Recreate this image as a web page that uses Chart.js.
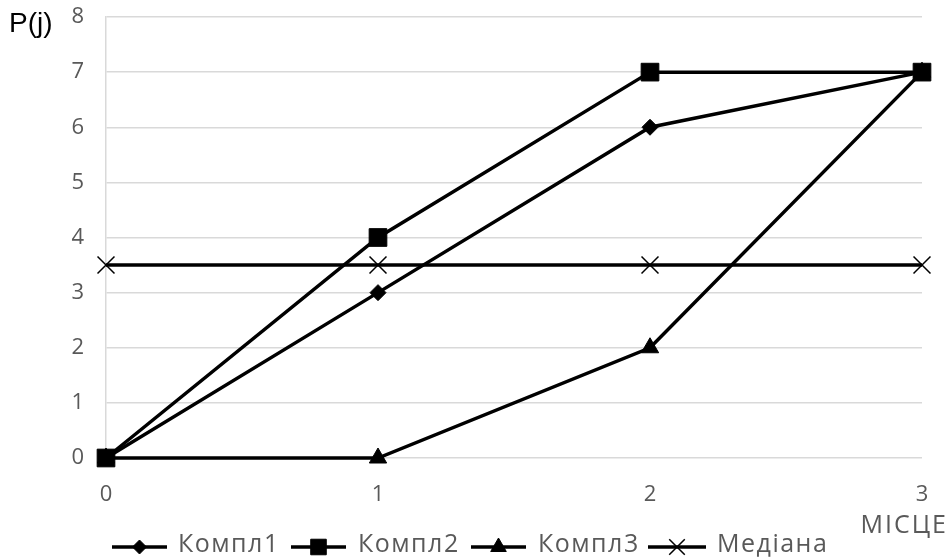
<!DOCTYPE html>
<html>
<head>
<meta charset="utf-8">
<script src="https://cdn.jsdelivr.net/npm/chart.js@4"></script>
<style>
  html, body { margin: 0; padding: 0; background: #fff; }
  #wrap { width: 949px; height: 560px; position: relative; }
</style>
</head>
<body>
<div id="wrap"><canvas id="c" width="949" height="560"></canvas></div>
<script>
// Places (x) and the P(j) values of each set
const places = [0, 1, 2, 3];
const kompl1 = [0, 3, 6, 7];
const kompl2 = [0, 4, 7, 7];
const kompl3 = [0, 0, 2, 7];
const median = [3.5, 3.5, 3.5, 3.5];
const seriesNames = ['Компл1', 'Компл2', 'Компл3', 'Медіана'];
const yTicks = [0, 1, 2, 3, 4, 5, 6, 7, 8];

const tickFont = { family: '"Open Sans", Lato, sans-serif', size: 22 };
const tickColor = '#595959';

const styles = [
  { pointStyle: 'rectRot', pointRadius: 8, legendRadius: 7 },
  { pointStyle: 'rect', pointRadius: 12.5, legendRadius: 11 },
  { pointStyle: 'triangle', pointRadius: 10, legendRadius: 9 },
  { pointStyle: 'crossRot', pointRadius: 12, legendRadius: 11, pointBorderWidth: 1.5 }
];

const seriesData = [kompl1, kompl2, kompl3, median];

const datasets = seriesData.map((vals, i) => ({
  label: seriesNames[i],
  data: places.map((p, k) => ({ x: p, y: vals[k] })),
  borderColor: '#000',
  backgroundColor: '#000',
  borderWidth: 3.5,
  pointBackgroundColor: '#000',
  pointBorderColor: '#000',
  pointBorderWidth: styles[i].pointBorderWidth || 1,
  pointStyle: styles[i].pointStyle,
  pointRadius: styles[i].pointRadius,
  pointHoverRadius: styles[i].pointRadius,
  tension: 0,
  clip: false,
  order: 4 - i
}));

// Legend with line + marker samples, and the two axis titles
const extras = {
  id: 'extras',
  afterDraw(chart) {
    const ctx = chart.ctx;
    ctx.save();
    ctx.fillStyle = '#000';
    ctx.font = '28px "Liberation Sans", Arial, sans-serif';
    ctx.textAlign = 'left';
    ctx.textBaseline = 'middle';
    ctx.fillText('P(j)', 9, 24);

    ctx.fillStyle = tickColor;
    ctx.font = '25px "Open Sans", Lato, sans-serif';
    ctx.letterSpacing = '2px';
    ctx.textAlign = 'right';
    ctx.fillText('МІСЦЕ', 948, 526);

    const items = [
      { x0: 112, x1: 167, tx: 178 },
      { x0: 291, x1: 346, tx: 358 },
      { x0: 471, x1: 526, tx: 538 },
      { x0: 648, x1: 706, tx: 717 }
    ];
    const ly = 547;
    items.forEach((it, i) => {
      ctx.strokeStyle = '#000';
      ctx.lineWidth = 3.5;
      ctx.beginPath();
      ctx.moveTo(it.x0, ly);
      ctx.lineTo(it.x1, ly);
      ctx.stroke();
      ctx.fillStyle = '#000';
      const bw = styles[i].pointBorderWidth || 1;
      ctx.lineWidth = bw;
      Chart.helpers.drawPoint(ctx, { pointStyle: styles[i].pointStyle, radius: styles[i].legendRadius, rotation: 0, borderWidth: bw }, (it.x0 + it.x1) / 2, ly);
      ctx.fillStyle = tickColor;
      ctx.font = '25px "Open Sans", Lato, sans-serif';
      ctx.letterSpacing = '1.5px';
      ctx.textAlign = 'left';
      ctx.textBaseline = 'middle';
      ctx.fillText(seriesNames[i], it.tx, ly - 2);
    });
    ctx.restore();
  }
};

new Chart(document.getElementById('c'), {
  type: 'line',
  data: { datasets },
  options: {
    responsive: false,
    animation: false,
    events: [],
    layout: { padding: { left: 0, right: 27, top: 17, bottom: 42 } },
    plugins: { legend: { display: false }, tooltip: { enabled: false } },
    scales: {
      x: {
        type: 'linear',
        min: 0,
        max: 3,
        afterBuildTicks(scale) { scale.ticks = places.map(v => ({ value: v })); },
        ticks: { font: tickFont, color: tickColor, padding: 24 },
        grid: { display: false, drawTicks: false },
        border: { display: false },
        afterFit(scale) { scale.height = 60; scale.paddingLeft = 0; scale.paddingRight = 0; }
      },
      y: {
        min: 0,
        max: 8,
        afterBuildTicks(scale) { scale.ticks = yTicks.map(v => ({ value: v })); },
        ticks: { font: tickFont, color: tickColor, padding: 22 },
        grid: { color: '#d9d9d9', lineWidth: 1.5, drawTicks: false },
        border: { display: true, color: '#d9d9d9', width: 1.5 },
        afterFit(scale) { scale.width = 106; scale.paddingTop = 0; scale.paddingBottom = 0; }
      }
    }
  },
  plugins: [extras]
});
</script>
</body>
</html>
